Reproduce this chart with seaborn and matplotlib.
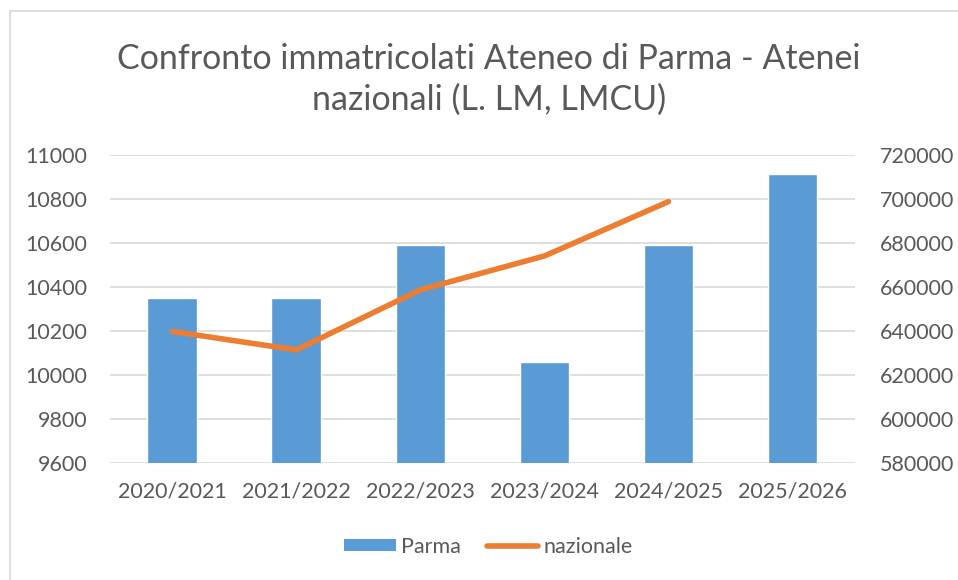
import numpy as np
import pandas as pd
import matplotlib
matplotlib.use("Agg")
import matplotlib.pyplot as plt
import seaborn as sns
from matplotlib.lines import Line2D
from matplotlib.patches import Patch

# data
anni = ["2020/2021", "2021/2022", "2022/2023", "2023/2024", "2024/2025", "2025/2026"]
parma = [10352, 10352, 10590, 10060, 10590, 10912]
nazionale = [639800, 631400, 658700, 674100, 698800]

sns.set_theme(style="white")
plt.rcParams["font.family"] = ["Lato", "DejaVu Sans"]

grigio = "#595959"
blu = "#5B9BD5"
arancio = "#ED7D31"

fig = plt.figure(figsize=(9.58, 5.8), dpi=100)
ax = fig.add_axes([0.115, 0.2017, 0.777, 0.5311])

df = pd.DataFrame({"anno": anni, "Parma": parma})
sns.barplot(data=df, x="anno", y="Parma", color=blu, width=0.4,
            saturation=1, ax=ax, zorder=2)
ax.set_ylim(9600, 11000)
ax.set_yticks(np.arange(9600, 11001, 200))
ax.set_xlim(-0.5, 5.5)
ax.yaxis.grid(True, color="#D9D9D9", lw=1.2, zorder=0)
ax.set_axisbelow(True)
ax.set_xlabel("")
ax.set_ylabel("")

ax2 = ax.twinx()
sns.lineplot(x=np.arange(len(nazionale)), y=nazionale, color=arancio,
             lw=4, ax=ax2, solid_capstyle="round")
ax2.set_ylim(580000, 720000)
ax2.set_yticks(np.arange(580000, 720001, 20000))
ax2.set_xlim(-0.5, 5.5)

for a in (ax, ax2):
    for s in a.spines.values():
        s.set_visible(False)
    a.tick_params(axis="both", length=0, labelsize=15.5, colors=grigio)
ax.tick_params(axis="y", pad=16.5)
ax.tick_params(axis="x", pad=13.5)
ax2.tick_params(axis="y", pad=18)

fig.text(0.51, 0.863, "Confronto immatricolati Ateneo di Parma - Atenei\nnazionali (L. LM, LMCU)",
         ha="center", va="center", fontsize=24.5, color=grigio, linespacing=1.3)

handles = [Patch(facecolor=blu, edgecolor="none"),
           Line2D([0], [0], color=arancio, lw=4, solid_capstyle="round")]
fig.legend(handles, ["Parma", "nazionale"], loc="center", bbox_to_anchor=(0.51, 0.057),
           ncol=2, frameon=False, fontsize=15.5, labelcolor=grigio,
           handlelength=2.4, handleheight=0.5, handletextpad=0.25, columnspacing=1.2)

# chart border (left and top edges visible, the rest is cropped off)
x0, y0 = 9.5 / 958, 1 - 10.5 / 580
fig.add_artist(Line2D([x0, x0], [0, y0], transform=fig.transFigure, color="#D9D9D9", lw=1.2))
fig.add_artist(Line2D([x0, 1], [y0, y0], transform=fig.transFigure, color="#D9D9D9", lw=1.2))

fig.savefig("out.png", dpi=100)
